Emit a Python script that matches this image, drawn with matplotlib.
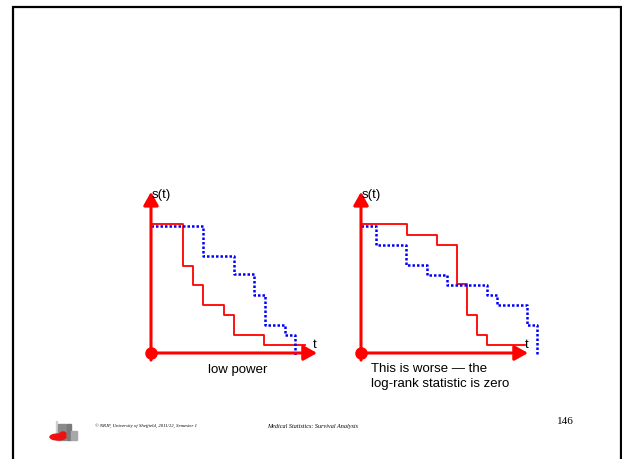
import matplotlib
matplotlib.use('Agg')
import matplotlib.pyplot as plt
from matplotlib.patches import Rectangle, Ellipse

plt.rcParams['font.family'] = ['Liberation Sans', 'DejaVu Sans']

# survival curves (t in arbitrary units, s in [0, 1])
left_red_t = [0, 3.2, 4.2, 5.2, 7.3, 8.3, 11.3, 15.4]
left_red_s = [1.0, 0.678, 0.526, 0.373, 0.295, 0.14, 0.065, 0.065]
left_blue_t = [0, 5.2, 8.3, 10.3, 11.4, 13.4, 14.4]
left_blue_s = [0.99, 0.756, 0.612, 0.45, 0.218, 0.14, -0.015]

right_red_t = [0, 4.57, 7.63, 9.6, 10.6, 11.6, 12.6, 16.4]
right_red_s = [1.0, 0.917, 0.839, 0.534, 0.295, 0.14, 0.065, 0.065]
right_blue_t = [0, 1.5, 4.5, 6.57, 8.57, 12.57, 13.63, 16.63, 17.63]
right_blue_s = [0.99, 0.839, 0.684, 0.606, 0.528, 0.45, 0.373, 0.218, -0.008]

W, H = 622, 459
fig = plt.figure(figsize=(W / 100, H / 100), dpi=100)

# slide background / frame / footer
bg = fig.add_axes([0, 0, 1, 1])
bg.set_xlim(0, W)
bg.set_ylim(H, 0)
bg.axis('off')
bg.plot([12.5, 12.5, 620.5, 620.5], [H, 6.5, 6.5, H], color='black', lw=1.6,
        solid_joinstyle='miter')

# little university logo
bg.add_patch(Rectangle((55.5, 421), 1.5, 19, color='#d0d0d0'))
bg.add_patch(Rectangle((58, 424), 8, 16, color='#8a8a8a'))
bg.add_patch(Rectangle((67, 424), 4, 16, color='#7a7a7a'))
bg.add_patch(Rectangle((71, 431), 6, 9, color='#a8a8a8'))
bg.add_patch(Ellipse((58, 437), 16, 6, color='#ee1111'))
bg.add_patch(Ellipse((63, 434), 6, 4, color='#ee1111'))

bg.text(95, 426, '© NRJF, University of Sheffield, 2011/12, Semester 1',
        family='Liberation Serif', style='italic', fontsize=3.4, va='center')
bg.text(267, 426.5, 'Medical Statistics: Survival Analysis',
        family='Liberation Serif', style='italic', fontsize=4.4, va='center')
bg.text(565, 421, '146', family='Liberation Serif', fontsize=8, ha='center',
        va='center')

RED = '#ff0000'
BLUE = '#0000ff'
S_PX = 128.7   # pixels per unit of s
T_PX = 10.0    # pixels per unit of t


def make_panel(x0, y0, wpx, hpx):
    ax = fig.add_axes([x0 / W, (H - y0) / H, wpx / W, hpx / H])
    ax.set_xlim(0, wpx / T_PX)
    ax.set_ylim(0, hpx / S_PX)
    ax.axis('off')
    return ax


def draw_axes(ax, xtip, ytip):
    head = dict(arrowstyle='-|>,head_length=0.8,head_width=0.45',
                color=RED, lw=2.2, shrinkA=0, shrinkB=0, mutation_scale=10)
    ax.annotate('', xy=(0, ytip), xytext=(0, -0.055), arrowprops=head,
                annotation_clip=False)
    ax.annotate('', xy=(xtip, 0), xytext=(0, 0), arrowprops=head,
                annotation_clip=False)
    ax.plot([0], [0], 'o', color=RED, ms=8, clip_on=False, zorder=5)
    ax.text(0.1, 1.228, 's(t)', fontsize=9.5, va='center', ha='left')


# left panel: low power
axl = make_panel(151, 353, 170, 165)
axl.step(left_red_t, left_red_s, where='post', color=RED, lw=1.3, clip_on=False)
axl.step(left_blue_t, left_blue_s, where='post', color=BLUE, lw=1.8,
         ls=(0, (1, 0.8)), clip_on=False)
draw_axes(axl, 16.6, 1.252)
axl.text(16.4, 0.06, 't', fontsize=9.5, ha='center', va='center')
axl.text(8.7, -0.132, 'low power', fontsize=9.5, ha='center', va='center',
         clip_on=False)

# right panel: crossing curves
axr = make_panel(361, 353, 180, 165)
axr.step(right_red_t, right_red_s, where='post', color=RED, lw=1.3, clip_on=False)
axr.step(right_blue_t, right_blue_s, where='post', color=BLUE, lw=1.8,
         ls=(0, (1, 0.8)), clip_on=False)
draw_axes(axr, 16.7, 1.252)
axr.text(16.6, 0.06, 't', fontsize=9.5, ha='center', va='center')
axr.text(1.0, -0.124, 'This is worse — the', fontsize=9.5, ha='left',
         va='center', clip_on=False)
axr.text(1.0, -0.241, 'log-rank statistic is zero', fontsize=9.5, ha='left',
         va='center', clip_on=False)

fig.savefig('out.png', dpi=100)
